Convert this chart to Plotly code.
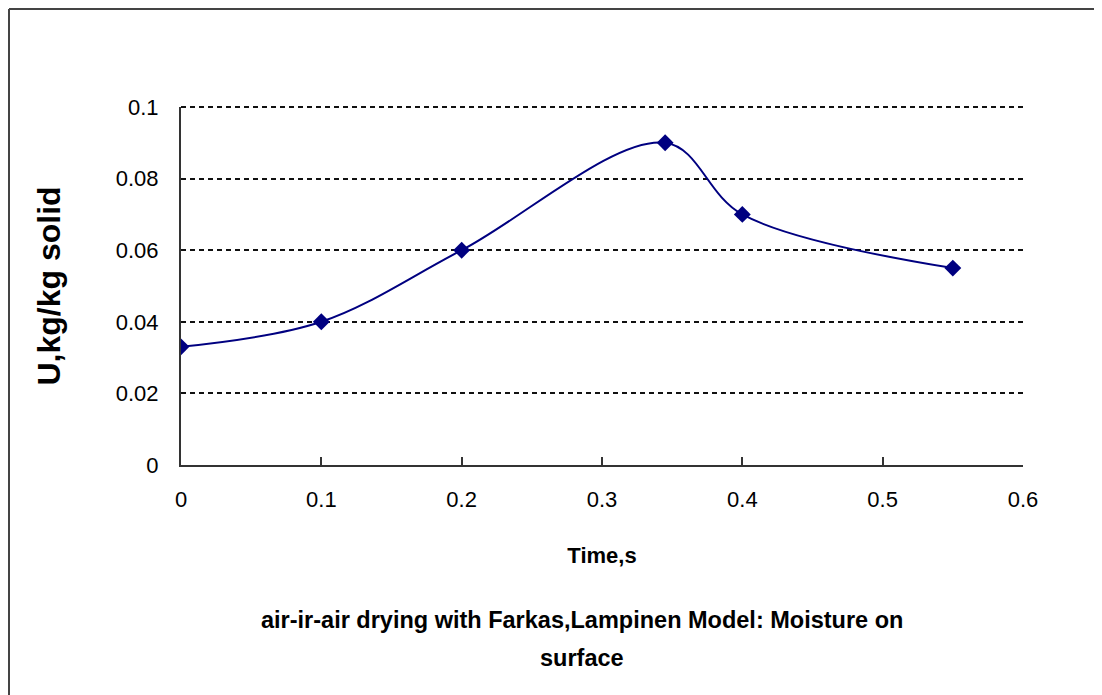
import plotly.graph_objects as go

time_s = [0.0, 0.1, 0.2, 0.345, 0.4, 0.55]
moisture = [0.033, 0.040, 0.060, 0.090, 0.070, 0.055]
x_ticks = [0, 0.1, 0.2, 0.3, 0.4, 0.5, 0.6]
x_tick_text = ["0", "0.1", "0.2", "0.3", "0.4", "0.5", "0.6"]
y_ticks = [0, 0.02, 0.04, 0.06, 0.08, 0.1]
y_tick_text = ["0", "0.02", "0.04", "0.06", "0.08", "0.1"]
title_lines = ["air-ir-air drying with Farkas,Lampinen Model: Moisture on", "surface"]

FONT = "Liberation Sans, Arial"

# page body has an 8px margin: figure spans page x 8..1102, y 8..695
W, H = 1094, 687
L, T = 173, 99            # plot area starts at page (181, 107)
PW, PH = 842, 358         # plot area size
R = W - L - PW
B = H - T - PH

fig = go.Figure()
fig.add_trace(go.Scatter(
    x=time_s, y=moisture, mode="lines+markers",
    line=dict(color="#000080", width=2, shape="spline", smoothing=1.0),
    marker=dict(symbol="diamond", size=13, color="#000080"),
    showlegend=False, hoverinfo="x+y",
))

fig.update_layout(
    width=W, height=H,
    margin=dict(l=L, r=R, t=T, b=B),
    paper_bgcolor="white", plot_bgcolor="white",
    xaxis=dict(
        range=[0, 0.6], tickvals=x_ticks, ticktext=x_tick_text,
        showgrid=False, zeroline=False,
        showline=True, linecolor="#333333", linewidth=2,
        ticks="inside", ticklen=8, tickwidth=1.5, tickcolor="#333333",
        tickfont=dict(family=FONT, size=22, color="black"),
        ticklabelstandoff=14,
        title=dict(text="<b>Time,s</b>", font=dict(family=FONT, size=22, color="black"), standoff=36),
    ),
    yaxis=dict(
        range=[0, 0.1], tickvals=y_ticks, ticktext=y_tick_text,
        showgrid=True, gridcolor="#111111", gridwidth=2, griddash="5px,4px",
        zeroline=False,
        showline=True, linecolor="#333333", linewidth=2,
        ticks="",
        tickfont=dict(family=FONT, size=22, color="black"),
        ticklabelstandoff=16,
        title=dict(text="<b>U,kg/kg solid</b>", font=dict(family=FONT, size=32, color="black"), standoff=46),
    ),
)

# top gridline at the range edge (Plotly omits it); paper-referenced so it is not clipped
fig.add_shape(type="line", xref="paper", yref="paper",
              x0=0, x1=1, y0=1, y1=1,
              line=dict(color="#111111", width=2, dash="5px,4px"))

for i, line_text in enumerate(title_lines):
    fig.add_annotation(
        xref="paper", yref="paper", x=(582 - 181) / PW, y=(465 - (620 + 38 * i)) / PH,
        text="<b>" + line_text + "</b>",
        showarrow=False, xanchor="center", yanchor="middle",
        font=dict(family=FONT, size=23.5, color="black"),
    )

# chart border (left and top edges visible), at page x=8 / y=8
bx = (1 - L) / PW
by = 1 + (T - 1) / PH
fig.add_shape(type="line", xref="paper", yref="paper",
              x0=bx, x1=bx, y0=-1.0, y1=by,
              line=dict(color="#444444", width=2))
fig.add_shape(type="line", xref="paper", yref="paper",
              x0=bx, x1=1.2, y0=by, y1=by,
              line=dict(color="#444444", width=2))

fig.write_html("out.html")
